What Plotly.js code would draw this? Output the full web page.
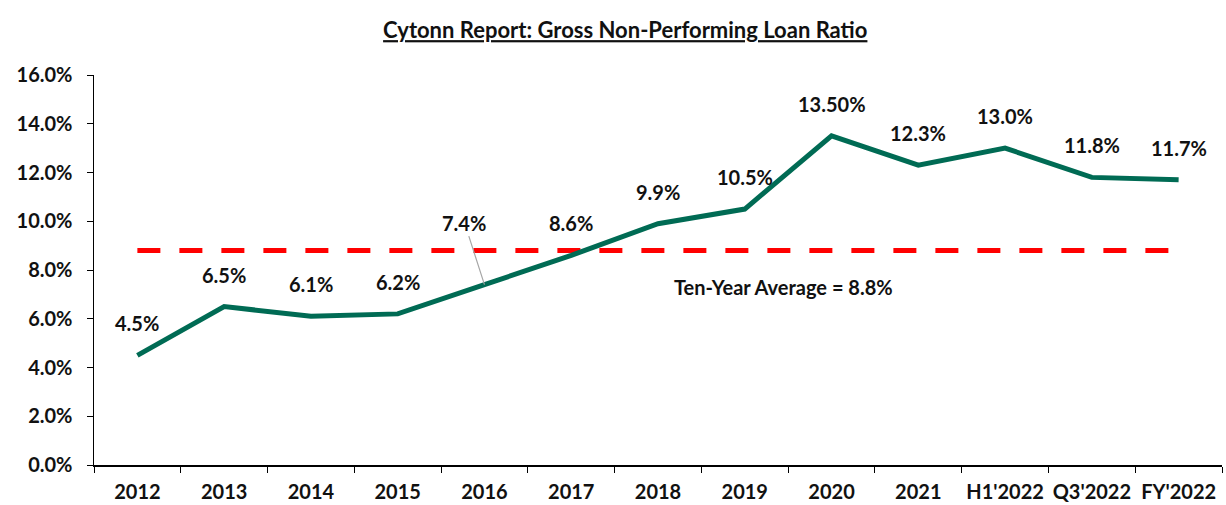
<!DOCTYPE html>
<html><head><meta charset="utf-8">
<script src="https://cdn.plot.ly/plotly-3.0.1.min.js"></script>
<style>html,body{margin:0;padding:0;background:#fff}#c{width:1226px;height:505px}</style>
</head><body><div id="c"></div>
<script>
const categories = ["2012","2013","2014","2015","2016","2017","2018","2019","2020","2021","H1'2022","Q3'2022","FY'2022"];
const npl = [4.5,6.5,6.1,6.2,7.4,8.6,9.9,10.5,13.5,12.3,13.0,11.8,11.7];
const labels = ["4.5%","6.5%","6.1%","6.2%","7.4%","8.6%","9.9%","10.5%","13.50%","12.3%","13.0%","11.8%","11.7%"];
const average = 8.8;
const avgLabel = "Ten-Year Average = 8.8%";

const F = "Lato, 'Open Sans', sans-serif";
const TC = '#111';
const traces = [
  {x: categories, y: categories.map(()=>average), mode:'lines', line:{color:'#ff0000', width:5, dash:'23px,19px'}, hoverinfo:'skip'},
  {x: categories, y: npl, mode:'lines', line:{color:'#006b54', width:5}, hoverinfo:'skip'}
];
const annotations = categories.map((c,i)=> {
  if (i===4) return {xref:'x', yref:'y', x:i, y:npl[i], text:'<b>'+labels[i]+'</b>', showarrow:true, arrowhead:0, arrowwidth:1.2, arrowcolor:'#a6a6a6', ax:-20, ay:-62, font:{family:F,size:20,color:TC}, standoff:0};
  return {xref:'x', yref:'y', x:i, y:npl[i], text:'<b>'+labels[i]+'</b>', showarrow:false, yshift:32, font:{family:F,size:20,color:TC}};
});
annotations.push({xref:'x', yref:'y', x:7, y:average, xshift:39, yshift:-36, text:'<b>'+avgLabel+'</b>', showarrow:false, font:{family:F,size:20,color:TC}});
const layout = {
  width:1226, height:505,
  margin:{l:94, r:4, t:75, b:40},
  paper_bgcolor:'#fff', plot_bgcolor:'#fff',
  showlegend:false,
  title:{text:'<b><u>Cytonn Report: Gross Non-Performing Loan Ratio</u></b>', x:0.51, xanchor:'center', y:0.955, font:{family:F, size:22, color:TC}},
  xaxis:{type:'category', categoryarray:categories, range:[-0.5,12.5], tickangle:0, showgrid:false, showline:true, linecolor:'#000', linewidth:1.5, ticks:'outside', tickson:'boundaries', ticklen:6, tickcolor:'#000', ticklabelstandoff:8, tickfont:{family:F,size:20,color:TC, weight:'bold'}, fixedrange:true},
  yaxis:{range:[0,16], dtick:2, tickformat:'.1f', ticksuffix:'%', showgrid:false, zeroline:false, showline:true, linecolor:'#000', linewidth:1.5, ticks:'outside', ticklen:6, tickcolor:'#000', ticklabelstandoff:10, tickfont:{family:F,size:20,color:TC, weight:'bold'}, fixedrange:true},
  annotations: annotations
};
Plotly.newPlot('c', traces, layout, {displayModeBar:false, staticPlot:true});
</script></body></html>
